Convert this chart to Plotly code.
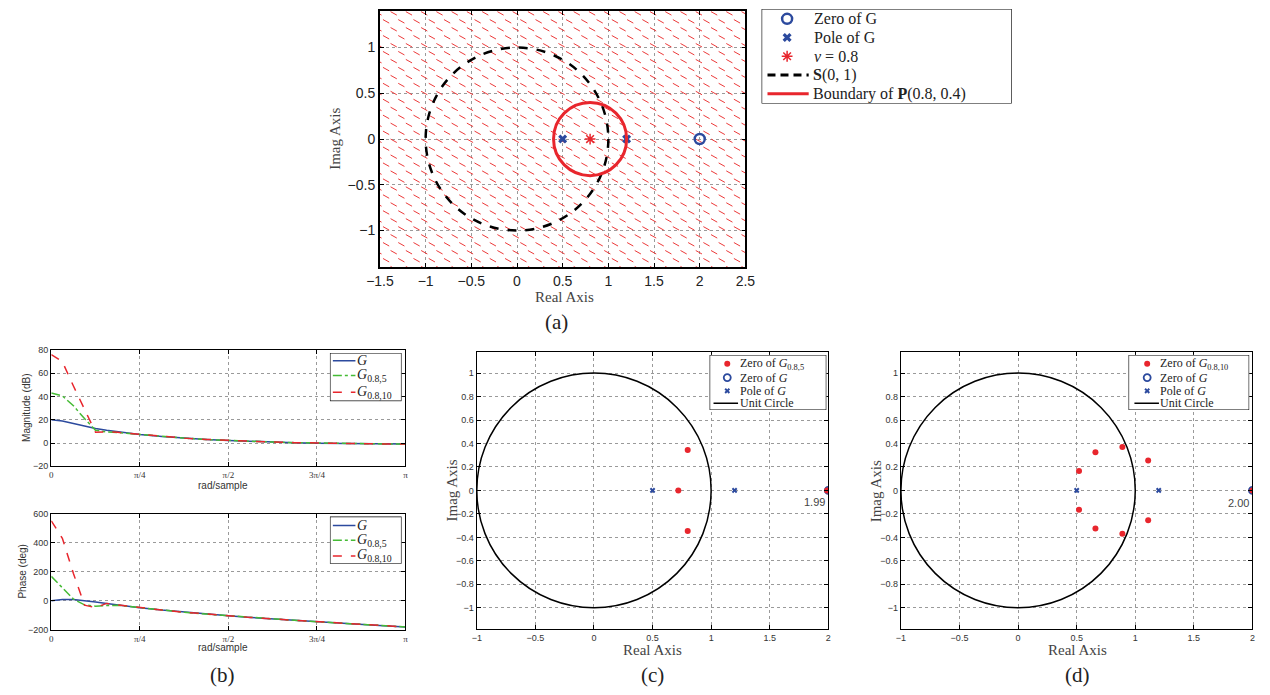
import numpy as np
import plotly.graph_objects as go

PI = np.pi
# ---------------- data ----------------
# (a) pole-zero map
A_ZERO_X = [2.0]; A_ZERO_Y = [0.0]
A_POLE_X = [0.5, 1.2]; A_POLE_Y = [0.0, 0.0]
A_NU_X = [0.8]; A_NU_Y = [0.0]
S_CIRCLE = (0.0, 0.0, 1.0)      # centre x, centre y, radius
P_CIRCLE = (0.8, 0.0, 0.4)

# (b) frequency responses
W = [0, PI/32, PI/16, 3*PI/32, PI/8, 5*PI/32, 3*PI/16, PI/4, 5*PI/16, 3*PI/8, 7*PI/16,
     PI/2, 9*PI/16, 5*PI/8, 11*PI/16, 3*PI/4, 13*PI/16, 7*PI/8, 15*PI/16, PI]
MAG_G = [20.0, 18.9, 16.7, 14.5, 12.5, 10.9, 9.5, 7.3, 5.6, 4.2, 3.1, 2.15, 1.4, 0.76, 0.25,
         -0.15, -0.45, -0.66, -0.79, -0.83]
MAG_G5 = [43, 40.5, 32, 21, 11, 9.6, 9.0, 7.2, 5.5, 4.2, 3.0, 2.1, 1.4, 0.8, 0.3,
          -0.1, -0.4, -0.6, -0.8, -0.9]
MAG_G10 = [76, 70, 49, 29, 9.2, 9.6, 9.2, 7.4, 5.6, 4.2, 3.1, 2.2, 1.4, 0.8, 0.3,
           -0.1, -0.4, -0.6, -0.8, -0.9]
PH_G = [0, 8.8, 8.7, 2.1, -7.5, -17.8, -28.2, -47.2, -63.9, -78.5, -91.5, -103.3, -114.3,
        -124.6, -134.4, -143.9, -153.2, -162.2, -171.1, -180]
PH_G5 = [168, 90, 12, -28, -37, -33, -30, -47.5, -64, -78.5, -91.5, -103.3, -114.3,
         -124.6, -134.4, -143.9, -153.2, -162.2, -171.1, -180]
PH_G10 = [550, 430, 188, -30, -47, -18, -28, -47.5, -64, -78.5, -91.5, -103.3, -114.3,
          -124.6, -134.4, -143.9, -153.2, -162.2, -171.1, -180]
B_XTICKS = [0, PI/4, PI/2, 3*PI/4, PI]
B_XTICKTEXT = ["0", "π/4", "π/2", "3π/4", "π"]

# (c) zeros of G_{0.8,5}
C_Z5_X = [0.72, 0.80, 0.80, 1.99]
C_Z5_Y = [0.0, 0.345, -0.345, 0.0]
# (d) zeros of G_{0.8,10}
D_Z10_X = [0.52, 0.52, 0.66, 0.66, 0.89, 0.89, 1.11, 1.11, 2.00]
D_Z10_Y = [0.165, -0.165, 0.325, -0.325, 0.37, -0.37, 0.255, -0.255, 0.0]
G_ZERO_X = [2.0]; G_ZERO_Y = [0.0]
G_POLE_X = [0.5, 1.2]; G_POLE_Y = [0.0, 0.0]
UNIT_CIRCLE = (0.0, 0.0, 1.0)

LEG_A = ["Zero of G", "Pole of G", "<i>ν</i> = 0.8", "<b>S</b>(0, 1)", "Boundary of <b>P</b>(0.8, 0.4)"]
LEG_B = ["<i>G</i>", "<i>G</i><sub>0.8,5</sub>", "<i>G</i><sub>0.8,10</sub>"]
LEG_C = ["Zero of <i>G</i><sub>0.8,5</sub>", "Zero of <i>G</i>", "Pole of <i>G</i>", "Unit Circle"]
LEG_D = ["Zero of <i>G</i><sub>0.8,10</sub>", "Zero of <i>G</i>", "Pole of <i>G</i>", "Unit Circle"]

# ---------------- style ----------------
BLUE = "#2c4a9e"
RED = "#e8262d"
GREEN = "#45bb35"
SERIF = "Liberation Serif"
SANS = "Liberation Sans"

W_PX, H_PX = 1270, 695
def px(x): return x / W_PX
def py(y): return 1 - y / H_PX

fig = go.Figure()

# hatching for panel (a) (decorative pattern)
hx, hy = [], []
stepx, stepy = 0.167, 0.087
for j in range(36):
    yc = 1.46 - j * stepy
    off = (j % 2) * stepx / 2
    for i in range(27):
        xc = -1.6 + i * stepx + off
        hx += [xc - 0.034, xc + 0.034, None]
        hy += [yc + 0.019, yc - 0.019, None]
fig.add_trace(go.Scatter(x=hx, y=hy, mode="lines", line=dict(color="#ec3a3a", width=1),
                         hoverinfo="skip", showlegend=False, xaxis="x", yaxis="y"))

def mk(x, y, ax, marker, mode="markers", line=None):
    d = dict(x=x, y=y, mode=mode, xaxis="x" + ax, yaxis="y" + ax, showlegend=False, hoverinfo="skip")
    if marker is not None:
        d["marker"] = marker
    if line is not None:
        d["line"] = line
    fig.add_trace(go.Scatter(**d))

M_ZERO_A = dict(symbol="circle-open", size=10, color=BLUE, line=dict(width=2.5, color=BLUE))
M_POLE_A = dict(symbol="x", size=8, color=BLUE, line=dict(width=0))
M_NU_A = dict(symbol="asterisk-open", size=9, color=RED, line=dict(width=1.5, color=RED))
mk(A_ZERO_X, A_ZERO_Y, "", M_ZERO_A)
mk(A_POLE_X, A_POLE_Y, "", M_POLE_A)
mk(A_NU_X, A_NU_Y, "", M_NU_A)

L_B = [dict(color=BLUE, width=1.5, dash="solid"),
       dict(color=GREEN, width=1.5, dash="dashdot"),
       dict(color=RED, width=1.5, dash="dash")]
for ys, ln in zip([MAG_G, MAG_G5, MAG_G10], L_B):
    mk(W, ys, "2", None, "lines", ln)
for ys, ln in zip([PH_G, PH_G5, PH_G10], L_B):
    mk(W, ys, "3", None, "lines", ln)

M_ZERO_C = dict(symbol="circle-open", size=7, color=BLUE, line=dict(width=1.8, color=BLUE))
M_RED = dict(symbol="circle", size=6, color=RED)
M_POLE_C = dict(symbol="x", size=5, color=BLUE, line=dict(width=0))
for ax, zx, zy in [("4", C_Z5_X, C_Z5_Y), ("5", D_Z10_X, D_Z10_Y)]:
    mk(G_ZERO_X, G_ZERO_Y, ax, M_ZERO_C)
    mk(zx, zy, ax, M_RED)
    mk(G_POLE_X, G_POLE_Y, ax, M_POLE_C)

# circles
shapes = []
def circ(c, xr, yr, color, width, dash):
    cx, cy, r = c
    return dict(type="circle", xref=xr, yref=yr, x0=cx - r, x1=cx + r, y0=cy - r, y1=cy + r,
                line=dict(color=color, width=width, dash=dash), layer="above")
shapes.append(circ(S_CIRCLE, "x", "y", "black", 2.5, "dash"))
shapes.append(circ(P_CIRCLE, "x", "y", RED, 3, "solid"))
shapes.append(circ(UNIT_CIRCLE, "x4", "y4", "black", 1.5, "solid"))
shapes.append(circ(UNIT_CIRCLE, "x5", "y5", "black", 1.5, "solid"))

def axis(domain, rng, anchor, tickfont, **kw):
    d = dict(domain=domain, range=rng, anchor=anchor, showline=True, linecolor="black", linewidth=1.2,
             mirror="ticks", ticks="inside", ticklen=4, tickcolor="black", showgrid=True,
             gridcolor="#9a9a9a", griddash="dot", gridwidth=1, zeroline=False,
             tickfont=tickfont, fixedrange=True)
    d.update(kw)
    return d

fa = dict(family=SANS, size=14, color="#222")
fb = dict(family=SERIF, size=9, color="#333")
fbs = dict(family=SANS, size=9, color="#333")
fc = dict(family=SANS, size=9, color="#333")

layout = dict(
    width=W_PX, height=H_PX, margin=dict(l=0, r=0, t=0, b=0), showlegend=False,
    paper_bgcolor="white", plot_bgcolor="white", shapes=shapes,
    xaxis=axis([px(373), px(745.5)], [-1.5, 2.5], "y", fa, dtick=0.5, linewidth=1.8),
    yaxis=axis([py(266), py(6)], [-1.4, 1.4], "x", fa, tickvals=[-1, -0.5, 0, 0.5, 1], linewidth=1.8),
    xaxis2=axis([px(38), px(399)], [0, PI], "y2", fb, tickvals=B_XTICKS, ticktext=B_XTICKTEXT),
    yaxis2=axis([py(468), py(350)], [-20, 80], "x2", fbs, dtick=20),
    xaxis3=axis([px(38), px(399)], [0, PI], "y3", fb, tickvals=B_XTICKS, ticktext=B_XTICKTEXT),
    yaxis3=axis([py(634), py(516)], [-200, 600], "x3", fbs, dtick=200),
    xaxis4=axis([px(471.7), px(830)], [-1, 2], "y4", fc, dtick=0.5),
    yaxis4=axis([py(633), py(352)], [-1.18, 1.18], "x4", fc, tickvals=[-1, -0.8, -0.6, -0.4, -0.2, 0, 0.2, 0.4, 0.6, 0.8, 1]),
    xaxis5=axis([px(904), px(1262.3)], [-1, 2], "y5", fc, dtick=0.5),
    yaxis5=axis([py(633), py(352)], [-1.18, 1.18], "x5", fc, tickvals=[-1, -0.8, -0.6, -0.4, -0.2, 0, 0.2, 0.4, 0.6, 0.8, 1]),
)

annotations = []

# ---------- hand-built legends (each on its own hidden pixel-unit axes) ----------
def legend_box(n, x0, y0, x1, y1):
    """axes n cover the legend box; coordinates are in page pixels"""
    layout["xaxis%d" % n] = dict(domain=[px(x0), px(x1)], range=[x0, x1], anchor="y%d" % n,
                                 visible=False, fixedrange=True)
    layout["yaxis%d" % n] = dict(domain=[py(y1), py(y0)], range=[y1, y0], anchor="x%d" % n,
                                 visible=False, fixedrange=True)
    fig.add_trace(go.Scatter(x=[x0, x1, x1, x0, x0], y=[y0, y0, y1, y1, y0], mode="lines",
                             fill="toself", fillcolor="white", line=dict(color="black", width=1.2),
                             xaxis="x%d" % n, yaxis="y%d" % n, showlegend=False, hoverinfo="skip",
                             cliponaxis=False))

def legend_entry(n, kind, style, ys, xs, text, tx, size):
    ax = str(n)
    if kind == "marker":
        mk([xs[0]], [ys], ax, style)
    else:
        mk([xs[0], xs[1]], [ys, ys], ax, None, "lines", style)
    annotations.append(dict(text=text, x=tx, y=ys, xref="x" + ax, yref="y" + ax, showarrow=False,
                            xanchor="left", yanchor="middle", borderpad=0,
                            font=dict(family=SERIF, size=size, color="#222")))

# legend (a)
legend_box(6, 762, 4, 1017, 100)
rows_a = [14, 33, 52, 71, 90]
FA_LEG = 16
legend_entry(6, "marker", M_ZERO_A, rows_a[0], [788], LEG_A[0], 814, FA_LEG)
legend_entry(6, "marker", M_POLE_A, rows_a[1], [788], LEG_A[1], 814, FA_LEG)
legend_entry(6, "marker", M_NU_A, rows_a[2], [788], LEG_A[2], 814, FA_LEG)
legend_entry(6, "line", dict(color="black", width=3, dash="8px,5px"), rows_a[3], [768, 810], LEG_A[3], 813, FA_LEG)
legend_entry(6, "line", dict(color=RED, width=3), rows_a[4], [768, 810], LEG_A[4], 813, FA_LEG)

# legends (b)
for n, (bx0, by0, bx1, by1), rows in [(7, (322, 353, 395, 402), [361, 376, 393]),
                                      (8, (322, 519, 395, 567), [528, 543, 559])]:
    legend_box(n, bx0, by0, bx1, by1)
    for k in range(3):
        legend_entry(n, "line", L_B[k], rows[k], [325, 348], LEG_B[k], 349, 14)

# legends (c) and (d)
L_UNIT = dict(color="black", width=1.5)
for n, (bx0, bx1), labels, mx, lx0, lx1, tx in [(9, (709, 828), LEG_C, 727, 713, 738, 739),
                                                (10, (1136, 1259), LEG_D, 1155, 1142, 1167, 1167)]:
    legend_box(n, bx0, 355, bx1, 411)
    rows = [364, 378, 391.5, 404]
    legend_entry(n, "marker", M_RED, rows[0], [mx], labels[0], tx, 12)
    legend_entry(n, "marker", M_ZERO_C, rows[1], [mx], labels[1], tx, 12)
    legend_entry(n, "marker", M_POLE_C, rows[2], [mx], labels[2], tx, 12)
    legend_entry(n, "line", L_UNIT, rows[3], [lx0, lx1], labels[3], tx, 12)

def ann(text, x, y, size, family=SERIF, angle=0, color="#333"):
    return dict(text=text, x=px(x), y=py(y), xref="paper", yref="paper", showarrow=False,
                font=dict(family=family, size=size, color=color), textangle=angle,
                xanchor="center", yanchor="middle")

annotations += [
    ann("Real Axis", 561, 296, 15, color="#444"),
    ann("Imag Axis", 327, 136, 15, angle=-90, color="#444"),
    ann("(a)", 553, 322, 21, color="#222"),
    ann("Magnitude (dB)", 12, 409, 10, family=SANS, angle=-90),
    ann("rad/sample", 213, 488, 10, family=SANS),
    ann("Phase (deg)", 9, 575, 10, family=SANS, angle=-90),
    ann("rad/sample", 213, 652, 10, family=SANS),
    ann("(b)", 213, 680, 21, color="#222"),
    ann("Real Axis", 651, 654, 15, color="#444"),
    ann("Imag Axis", 446, 493, 15, angle=-90, color="#444"),
    ann("(c)", 651, 680, 21, color="#222"),
    ann("Real Axis", 1084, 654, 15, color="#444"),
    ann("Imag Axis", 878, 493, 15, angle=-90, color="#444"),
    ann("(d)", 1084, 680, 21, color="#222"),
    ann("1.99", 816, 504, 11, family=SANS, color="#444"),
    ann("2.00", 1248, 505, 11, family=SANS, color="#444"),
]
layout["annotations"] = annotations

fig.update_layout(**layout)
fig.write_html("out.html")
